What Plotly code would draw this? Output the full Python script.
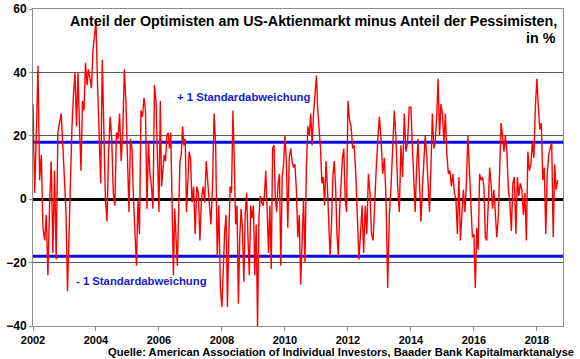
import plotly.graph_objects as go

# Weekly sentiment spread (bulls minus bears, in %), per year
v2002 = [30, 2, 20, 42, 6, 14, -9, -13, -5, -24, -2, 12, -17, 9, -19, 21, 24, 27, 17]
v2003 = [8, -4, -29, -11, 6, 23, 33, 40, 23, 40, 23, 9, 31, 28, 43, 36, 41, 38, 35, 47, 52]
v2004 = [56, 36, 20, 5, 44, 21, 0, -7, 15, 26, 19, 2, -2, 21, 19, 27, 12, 21, 41, 31]
v2005 = [12, -4, 19, 16, 0, -11, -21, 0, -11, 28, 26, 32, 28, -3, 18, 8, 4, -3, 36, 31, 8]
v2006 = [-4, 31, 4, 9, 14, 12, 20, 21, 16, 21, -4, -24, -3, -11, -21, -4, 12, 14, 23, 17, 19, -4, 6, 15]
v2007 = [13, -1, 4, -11, 4, 2, -13, 0, 4, -1, 12, 6, 0, -8, 4, 27, 17, -18, -2, -28]
v2008 = [-34, -20, -10, -5, -34, -12, 4, 2, 28, 12, -8, -2, -33, -12, -3, -10, -26, -5, 2, -12, -24, -2, -6]
v2009 = [-2, -24, -8, -40, -6, 1, -1, -2, 1, 9, -3, -17, -2, -22, 16, 17, 0, -4, 5, 8, -21, 7, 11]
v2010 = [20, 12, -9, 13, 16, 12, 10, 11, 3, -12, -5, -27, -10, 0, -20, 10, 23, 20, 27, 17, 27, 34]
v2011 = [39, 28, 22, 16, 5, 7, -2, 12, 4, -10, -18, -8, 7, 12, 4, -11, -18, -3, 5, 13, 16, 0, -4]
v2012 = [31, 25, 23, 16, 17, 8, -4, -19, -11, -2, -17, -2, -11, 8, 2, -11, -13, 0, 10, 19]
v2013 = [26, 19, 8, 13, 0, -28, -5, 4, 19, 28, 19, 4, -4, 17, 7, 27, 15, 18, 29]
v2014 = [29, 17, 8, -4, 10, 19, 5, -7, 3, 10, 20, 14, 5, -4, 10, 27, 16, 18, 26, 38, 20, 30]
v2015 = [27, 18, 27, 14, 8, 9, 4, 8, 2, 0, -11, 7, -13, -5, 3, -4, 5, 20, 10, -2, -12]
v2016 = [-11, -28, -9, -16, 8, 6, 7, 4, -12, -13, -2, 10, 5, -3, 3, -5, -12, -6, 8, 24, 20, 15]
v2017 = [20, 15, 3, -1, -10, 5, 7, -11, 7, 1, 5, 3, -5, 2, -13, 15, 9, 11, 18, 13, 29]
v2018 = [38, 29, 22, 24, 6, 10, -11, 8, 14, 16, 18, -12, 11, 3, 6]
LAST_DATE = 2018.66  # last observation (decimal year)

STD_UPPER = 18   # + 1 Standardabweichung
STD_LOWER = -18  # - 1 Standardabweichung

X_TICKS = [2002, 2004, 2006, 2008, 2010, 2012, 2014, 2016, 2018]
Y_TICKS = [-40, -20, 0, 20, 40, 60]

years = [
    (2002, v2002), (2003, v2003), (2004, v2004), (2005, v2005), (2006, v2006),
    (2007, v2007), (2008, v2008), (2009, v2009), (2010, v2010), (2011, v2011),
    (2012, v2012), (2013, v2013), (2014, v2014), (2015, v2015), (2016, v2016),
    (2017, v2017),
]
xs, ys = [], []
for yr, vals in years:
    n = len(vals)
    for k, v in enumerate(vals):
        xs.append(yr + k / n)
        ys.append(v)
n = len(v2018)
for k, v in enumerate(v2018):
    xs.append(2018 + k * (LAST_DATE - 2018) / (n - 1))
    ys.append(v)

FONT = "Arial, 'Liberation Sans', sans-serif"
BLUE = "#1a1ad2"

fig = go.Figure()
fig.add_trace(go.Scatter(x=xs, y=ys, mode="lines",
                         line=dict(color="#ff0000", width=1.4),
                         hoverinfo="skip", showlegend=False))

for lvl in (STD_UPPER, STD_LOWER):
    fig.add_shape(type="line", xref="paper", x0=0, x1=1, yref="y", y0=lvl, y1=lvl,
                  line=dict(color="#0a0ae6", width=3), layer="below")

fig.update_layout(
    width=580, height=359, autosize=False,
    margin=dict(l=33, r=17, t=9, b=33, autoexpand=False),
    paper_bgcolor="white", plot_bgcolor="white",
    font=dict(family=FONT, color="black"),
    showlegend=False,
)
fig.update_xaxes(
    range=[2002, 2018.83], tickvals=X_TICKS, ticktext=[str(t) for t in X_TICKS],
    showgrid=False, zeroline=False,
    showline=True, mirror=True, linecolor="#8c8c8c", linewidth=1,
    ticks="outside", ticklen=4, tickcolor="#8c8c8c",
    tickfont=dict(family=FONT, size=11, color="black", weight="bold"),
)
fig.update_yaxes(
    range=[-40, 60], tickvals=Y_TICKS,
    showgrid=True, gridcolor="#5a5a5a", gridwidth=1,
    zeroline=True, zerolinecolor="black", zerolinewidth=2.5,
    showline=True, mirror=True, linecolor="#8c8c8c", linewidth=1,
    ticks="outside", ticklen=3, tickcolor="#8c8c8c",
    tickfont=dict(family=FONT, size=12, color="black", weight="bold"),
)

def px_x(p):
    return (p - 33) / 530.0

def px_y(p):
    return (326 - p) / 317.0

annots = [
    dict(text="Anteil der Optimisten am US-Aktienmarkt minus Anteil der Pessimisten,",
         x=px_x(559), y=px_y(21.5), xanchor="right", yanchor="middle",
         font=dict(size=14.3, color="black", family=FONT, weight="bold")),
    dict(text="in %", x=px_x(558), y=px_y(38), xanchor="right", yanchor="middle",
         font=dict(size=14.3, color="black", family=FONT, weight="bold")),
    dict(text="+ 1 Standardabweichung", x=px_x(243.5), y=px_y(97),
         xanchor="center", yanchor="middle",
         font=dict(size=11.3, color=BLUE, family=FONT, weight="bold")),
    dict(text="- 1 Standardabweichung", x=px_x(141.7), y=px_y(281),
         xanchor="center", yanchor="middle",
         font=dict(size=11.3, color=BLUE, family=FONT, weight="bold")),
    dict(text="Quelle: American Association of Individual Investors, Baader Bank Kapitalmarktanalyse",
         x=px_x(576), y=px_y(352), xanchor="right", yanchor="middle",
         font=dict(size=11.2, color="black", family=FONT, weight="bold")),
]
for a in annots:
    fig.add_annotation(xref="paper", yref="paper", showarrow=False, **a)

fig.write_html("out.html", config={"displayModeBar": False},
               post_script="document.body.style.margin='0px';document.body.style.overflow='hidden';")
